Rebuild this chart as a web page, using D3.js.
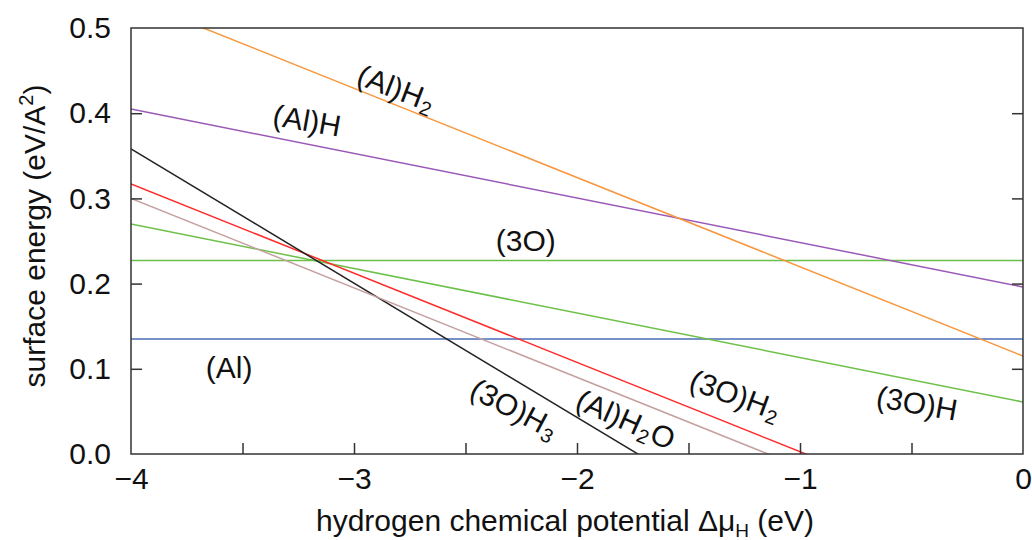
<!DOCTYPE html>
<html>
<head>
<meta charset="utf-8">
<script src="https://cdn.jsdelivr.net/npm/d3@7"></script>
<style>
  html, body { margin: 0; padding: 0; background: #fff; }
  svg { display: block; font-family: "Liberation Sans", Arial, sans-serif; }
</style>
</head>
<body>
<svg id="chart" width="1032" height="540"></svg>
<script>
// ---- data ----
const muDomain = [-4, 0];
const energyDomain = [0, 0.5];
const xTickValues = [-4, -3.5, -3, -2.5, -2, -1.5, -1, -0.5, 0];
const xTickLabels = ["\u22124", "", "\u22123", "", "\u22122", "", "\u22121", "", "0"];
const yTickValues = [0, 0.1, 0.2, 0.3, 0.4, 0.5];
const yTickLabels = ["0.0", "0.1", "0.2", "0.3", "0.4", "0.5"];

const seriesNames = ["(Al)", "(3O)", "(Al)H", "(Al)H2", "(3O)H", "(3O)H2", "(3O)H3", "(Al)H2O"];
// surface energy at Δμ_H = -4 and at Δμ_H = 0 (linear in Δμ_H)
const energyAtMinus4 = [0.135, 0.227, 0.405, 0.534, 0.270, 0.317, 0.358, 0.300];
const energyAtZero   = [0.135, 0.227, 0.196, 0.115, 0.061, -0.102, -0.272, -0.120];
const seriesColors = ["#4a6db8", "#6cc04a", "#9b59b6", "#f7963c", "#6cc04a", "#ff2a2a", "#222222", "#c4a0a0"];

// label anchors (data coordinates) and rotation
const labelMu     = [-3.56, -2.23, -3.21, -2.81, -0.475, -1.29, -2.28, -1.78];
const labelEnergy = [0.102, 0.251, 0.392, 0.430, 0.060, 0.070, 0.054, 0.041];
const labelAngle  = [0, 0, 10, 21, 10, 20, 28, 24];
const labelParts  = [
  [["(Al)", false]],
  [["(3O)", false]],
  [["(Al)H", false]],
  [["(Al)H", false], ["2", true]],
  [["(3O)H", false]],
  [["(3O)H", false], ["2", true]],
  [["(3O)H", false], ["3", true]],
  [["(Al)H", false], ["2", true], ["O", false]]
];

// ---- layout ----
const svg = d3.select("#chart");
const margin = {left: 131, right: 1032 - 1023, top: 28, bottom: 540 - 454};
const W = 1032 - margin.left - margin.right;
const H = 540 - margin.top - margin.bottom;

const x = d3.scaleLinear().domain(muDomain).range([0, W]);
const y = d3.scaleLinear().domain(energyDomain).range([H, 0]);

const g = svg.append("g").attr("transform", `translate(${margin.left},${margin.top})`);

g.append("clipPath").attr("id", "clip")
  .append("rect").attr("x", 0).attr("y", 0).attr("width", W).attr("height", H);

// lines
const line = d3.line().x(d => x(d[0])).y(d => y(d[1]));
const linesG = g.append("g").attr("clip-path", "url(#clip)");
seriesNames.forEach((name, i) => {
  const pts = [[muDomain[0], energyAtMinus4[i]], [muDomain[1], energyAtZero[i]]];
  linesG.append("path")
    .attr("d", line(pts))
    .attr("fill", "none")
    .attr("stroke", seriesColors[i])
    .attr("stroke-width", 1.5);
});

// axes
const tickColor = "#333";
const xAxis = d3.axisBottom(x).tickValues(xTickValues)
  .tickFormat((d, i) => xTickLabels[i]).tickSizeInner(-11).tickSizeOuter(0).tickPadding(14);
const yAxis = d3.axisLeft(y).tickValues(yTickValues)
  .tickFormat((d, i) => yTickLabels[i]).tickSizeInner(-11).tickSizeOuter(0).tickPadding(20);
const yAxisR = d3.axisRight(y).tickValues(yTickValues.slice(1, 5))
  .tickFormat("").tickSizeInner(-11).tickSizeOuter(0);

const gx = g.append("g").attr("transform", `translate(0,${H})`).call(xAxis);
const gy = g.append("g").call(yAxis);
const gyr = g.append("g").attr("transform", `translate(${W},0)`).call(yAxisR);
[gx, gy, gyr].forEach(a => {
  a.select(".domain").remove();
  a.selectAll(".tick line").attr("stroke", tickColor).attr("stroke-width", 1.5);
  a.selectAll(".tick text").attr("fill", "#111").attr("font-size", 30)
    .attr("font-family", "Liberation Sans, Arial, sans-serif");
});
gx.selectAll(".tick line").filter(d => d === muDomain[0] || d === muDomain[1]).remove();
gy.selectAll(".tick line").filter(d => d === energyDomain[0] || d === energyDomain[1]).remove();

// frame
g.append("rect").attr("x", 0).attr("y", 0).attr("width", W).attr("height", H)
  .attr("fill", "none").attr("stroke", tickColor).attr("stroke-width", 1.5);

// series labels
seriesNames.forEach((name, i) => {
  const t = g.append("text")
    .attr("transform", `translate(${x(labelMu[i])},${y(labelEnergy[i])}) rotate(${labelAngle[i]})`)
    .attr("text-anchor", "middle")
    .attr("dominant-baseline", "central")
    .attr("font-size", 30)
    .attr("fill", "#111");
  let shifted = false;
  labelParts[i].forEach(([txt, sub]) => {
    const ts = t.append("tspan").text(txt);
    if (sub) { ts.attr("font-size", 20).attr("dy", 9).attr("dx", 1); shifted = true; }
    else if (shifted) { ts.attr("dy", -9).attr("dx", 1); shifted = false; }
  });
});

// axis titles
const xt = svg.append("text")
  .attr("x", margin.left + W / 2 - 12).attr("y", 531)
  .attr("text-anchor", "middle").attr("font-size", 30).attr("fill", "#111");
xt.append("tspan").text("hydrogen chemical potential \u0394\u03bc");
xt.append("tspan").text("H").attr("font-size", 19).attr("dy", 6);
xt.append("tspan").text(" (eV)").attr("dy", -6);

const yt = svg.append("text")
  .attr("transform", `translate(45,236) rotate(-90)`)
  .attr("text-anchor", "middle").attr("font-size", 30).attr("fill", "#111");
yt.append("tspan").text("surface energy (eV/A");
yt.append("tspan").text("2").attr("font-size", 20).attr("dy", -12);
yt.append("tspan").text(")").attr("dy", 12);
</script>
</body>
</html>
